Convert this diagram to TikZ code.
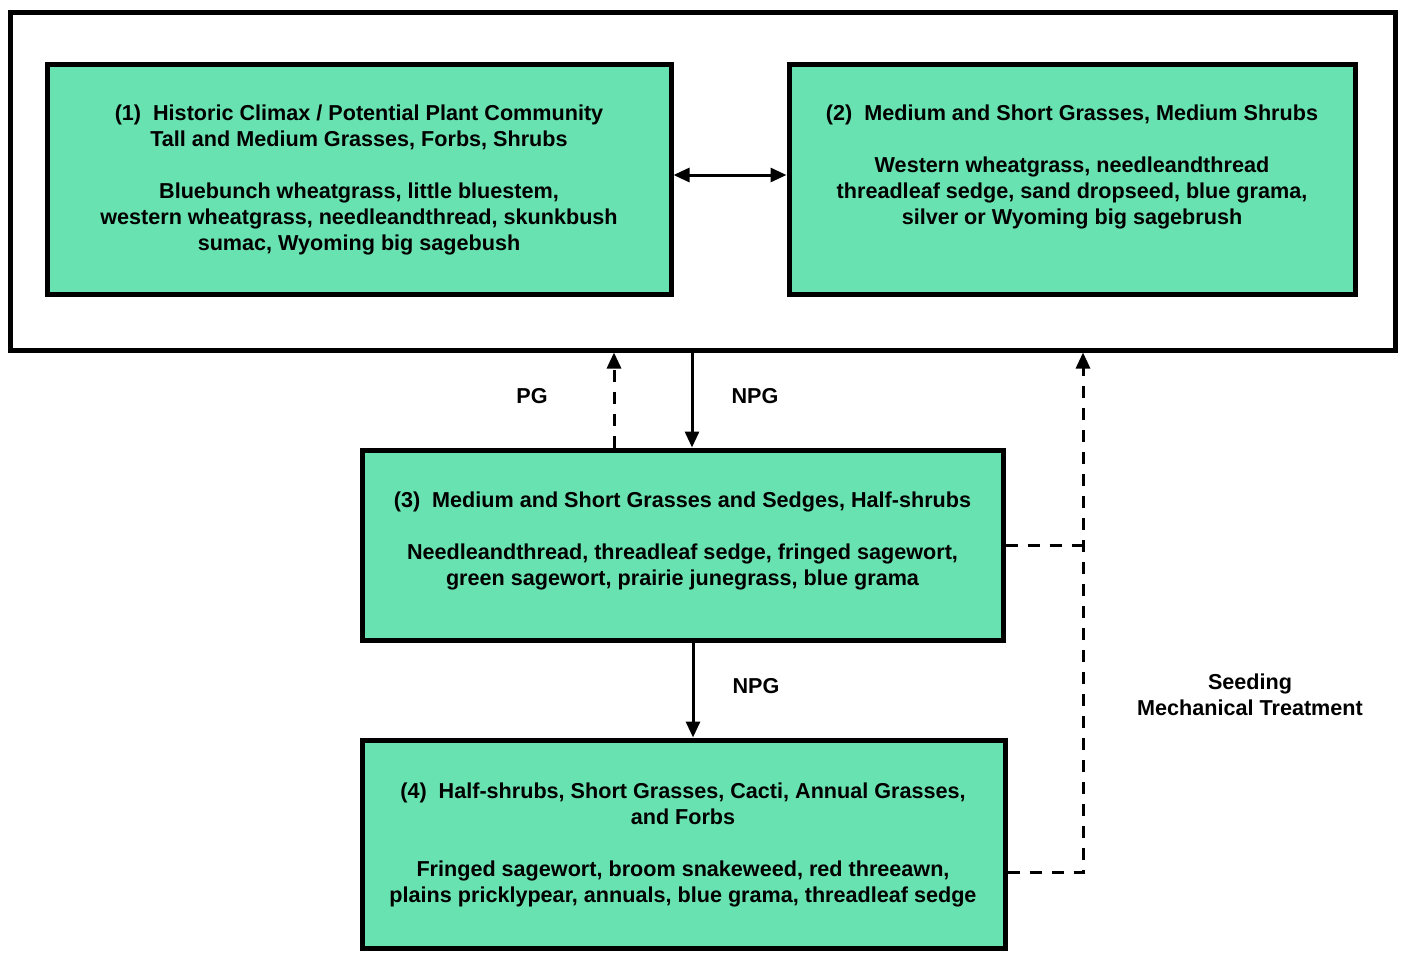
\documentclass[tikz,border=0pt]{standalone}
\usepackage{fontspec}
\setmainfont{Liberation Sans}
\usetikzlibrary{arrows.meta,calc}
\definecolor{mint}{RGB}{104,226,176}
\begin{document}
\begin{tikzpicture}[x=1pt,y=-1pt,
  box/.style={draw=black, fill=mint, line width=5pt, rectangle, inner sep=0pt},
  txt/.style={align=center, font=\fontsize{21.6}{26}\selectfont\bfseries, inner sep=0pt},
  lbl/.style={align=center, font=\fontsize{21.6}{26}\selectfont\bfseries, inner sep=0pt},
  conn/.style={line width=3pt, -{Triangle[length=16pt,width=14pt]}},
  dconn/.style={line width=3pt, dash pattern=on 12pt off 10pt},
  darr/.style={line width=3pt, {Triangle[length=16pt,width=14pt]}-{Triangle[length=16pt,width=14pt]}}]
\useasboundingbox (0,0) rectangle (1401,954);
\fill[white] (0,0) rectangle (1401,954);
% outer frame
\node[draw=black, line width=5pt, rectangle, inner sep=0pt, minimum width=1385pt, minimum height=338pt] (outer) at (702.5,181) {};
% boxes
\node[box, minimum width=624pt, minimum height=230pt] (b1) at (359,179) {};
\node[box, minimum width=566pt, minimum height=230pt] (b2) at (1072,179) {};
\node[box, minimum width=641pt, minimum height=190pt] (b3) at (682.5,545) {};
\node[box, minimum width=643pt, minimum height=208pt] (b4) at (683.5,844) {};
% texts
\node[txt] (t1) at (359,180) {(1)\ \ Historic Climax / Potential Plant Community\\Tall and Medium Grasses, Forbs, Shrubs\\[26pt]Bluebunch wheatgrass, little bluestem,\\western wheatgrass, needleandthread, skunkbush\\sumac, Wyoming big sagebush};
\node[txt] (t2) at (1072,167) {(2)\ \ Medium and Short Grasses, Medium Shrubs\\[26pt]Western wheatgrass, needleandthread\\threadleaf sedge, sand dropseed, blue grama,\\silver or Wyoming big sagebrush};
\node[txt] (t3) at (682.5,541) {(3)\ \ Medium and Short Grasses and Sedges, Half-shrubs\\[26pt]Needleandthread, threadleaf sedge, fringed sagewort,\\green sagewort, prairie junegrass, blue grama};
\node[txt] (t4) at (683,844.5) {(4)\ \ Half-shrubs, Short Grasses, Cacti, Annual Grasses,\\and Forbs\\[26pt]Fringed sagewort, broom snakeweed, red threeawn,\\plains pricklypear, annuals, blue grama, threadleaf sedge};
% labels
\node[lbl] (pg) at (532,396) {PG};
\node[lbl] (npg1) at (755,396) {NPG};
\node[lbl] (npg2) at (756,686) {NPG};
\node[lbl] (seed) at (1250,694.5) {Seeding\\Mechanical Treatment};
% helper coordinates
\coordinate (xpg) at (614,0);
\coordinate (xnpg) at (692,0);
\coordinate (xnpg2) at (693,0);
\coordinate (xr) at (1083,0);
\coordinate (y12) at (0,175);
\coordinate (y3) at (0,545);
\coordinate (y4) at (0,872);
% connectors
\draw[darr] (b1.east |- y12) -- (b2.west |- y12);
\draw[conn, dash pattern=on 12pt off 10pt] (b3.north -| xpg) -- (outer.south -| xpg);
\draw[conn] (outer.south -| xnpg) -- (b3.north -| xnpg);
\draw[conn] (b3.south -| xnpg2) -- (b4.north -| xnpg2);
\draw[dconn] (b3.east |- y3) -- (xr |- y3);
\draw[conn, dash pattern=on 12pt off 10pt] (b4.east |- y4) -- (xr |- y4) -- (outer.south -| xr);
\end{tikzpicture}
\end{document}
